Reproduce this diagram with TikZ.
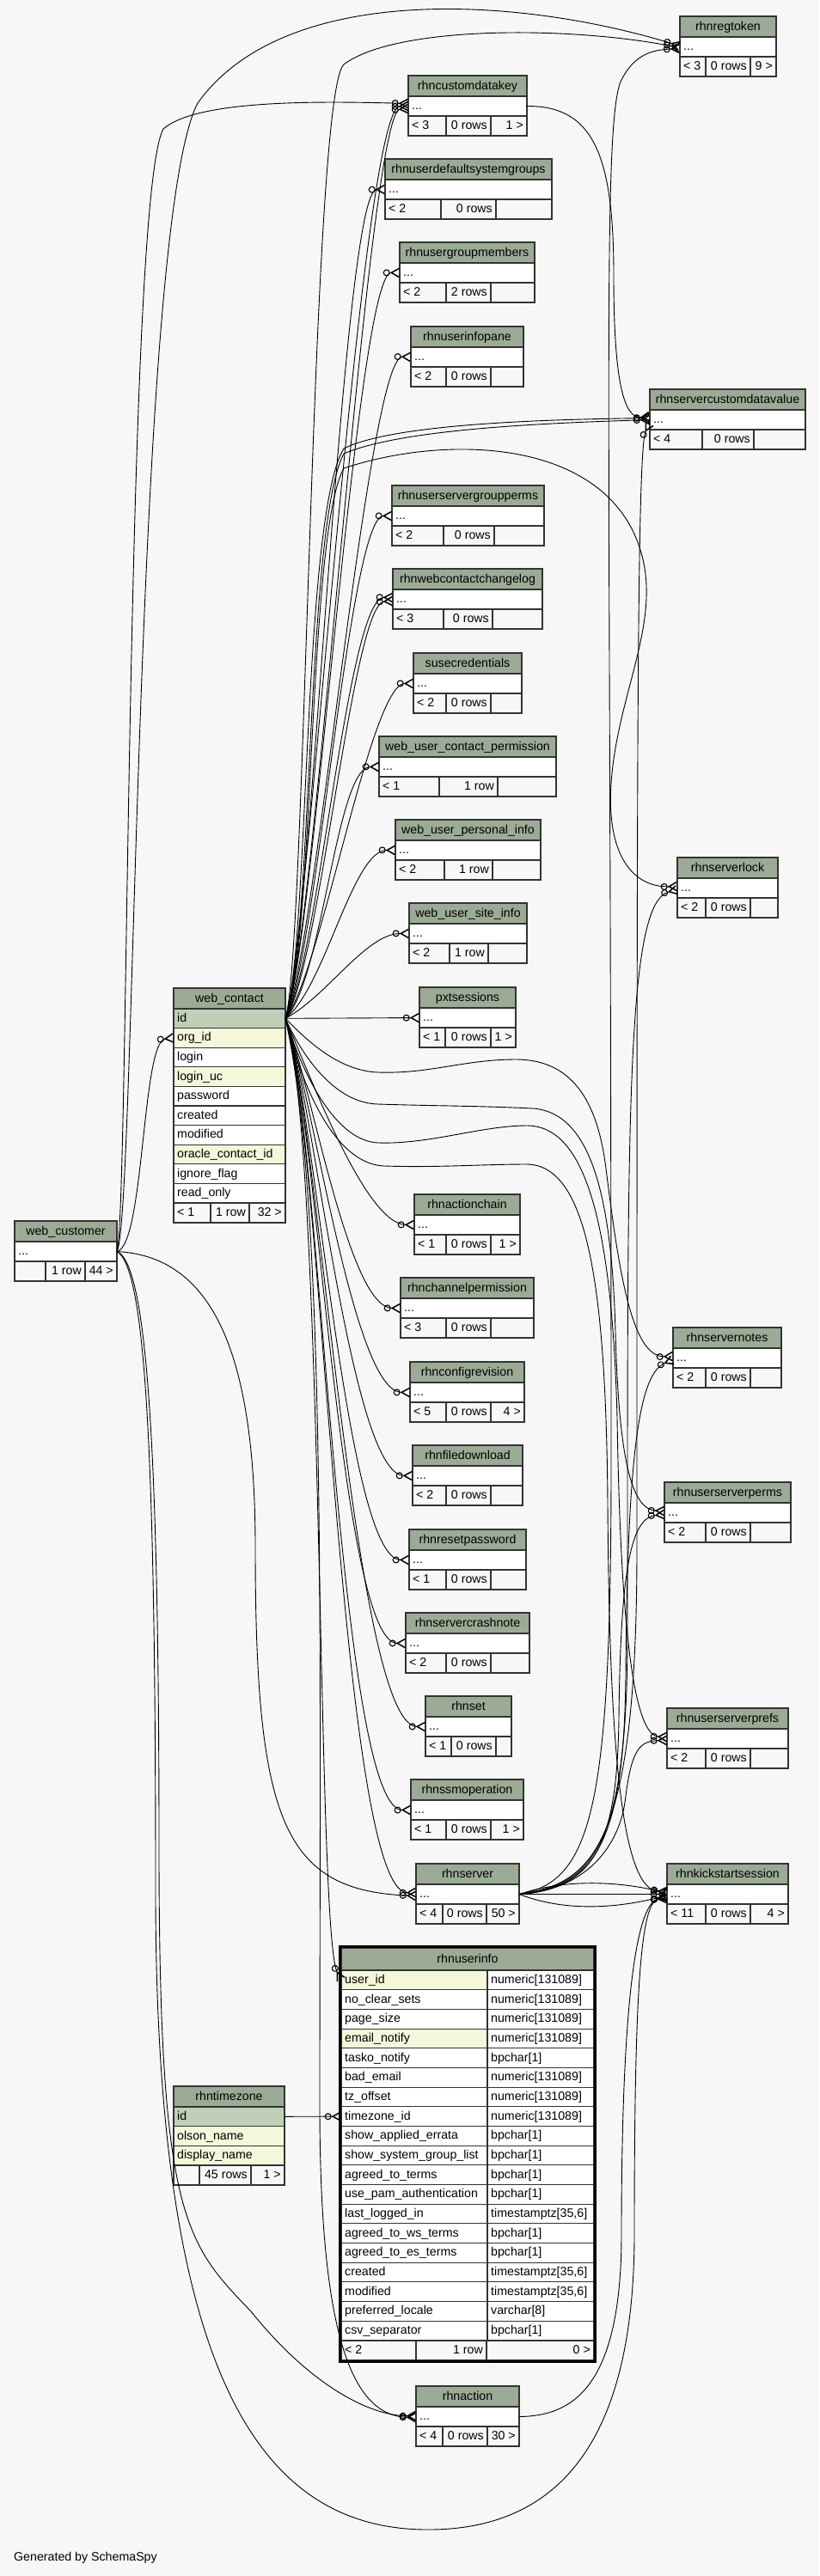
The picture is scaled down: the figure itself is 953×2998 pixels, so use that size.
\documentclass[tikz,border=0pt]{standalone}
\usepackage{fontspec}
\setmainfont{Liberation Sans}
\usetikzlibrary{arrows.meta}
\definecolor{headgreen}{HTML}{9BAB96}
\definecolor{pagegray}{HTML}{F7F7F7}
\definecolor{keygreen}{HTML}{BED1B8}
\definecolor{idxyellow}{HTML}{F4F7DA}

\begin{document}
\begin{tikzpicture}[x=1pt,y=-1pt,font=\fontsize{14.2}{16}\selectfont,
    cell/.style={draw=black!80,line width=1.1pt},
    colcell/.style={cell,rectangle,inner sep=0pt,outer sep=0pt,minimum height=22.6pt},
    txt/.style={inner sep=0pt,text height=9pt,text depth=1pt},
    fk/.style={line width=0.9pt,-{Circle[open,length=8pt,width=8pt,line width=1.1pt]Straight Barb[reversed,length=9pt,width=10pt,line width=1.5pt]}}]
    \fill[pagegray] (0,0) rectangle (953,2998);
    \useasboundingbox (0,0) rectangle (953,2998);

    % small tables: id/title/left/right/top/cell1/cell2/footer texts
    \foreach \tid/\tname/\xl/\xr/\yt/\ca/\cb/\fa/\fb/\fc in {
        regtoken/rhnregtoken/791/903/19/821/873/{< 3}/{0 rows}/{9 >},
        cdatakey/rhncustomdatakey/475/613/88/519/571/{< 3}/{0 rows}/{1 >},
        udsg/rhnuserdefaultsystemgroups/448/642/185/513/577/{< 2}/{0 rows}/{},
        ugm/rhnusergroupmembers/465/622/282/519/571/{< 2}/{2 rows}/{},
        uip/rhnuserinfopane/478/609/380/519/571/{< 2}/{0 rows}/{},
        scdv/rhnservercustomdatavalue/756/937/453/817/877/{< 4}/{0 rows}/{},
        usgp/rhnuserservergroupperms/456/633/565/516/575/{< 2}/{0 rows}/{},
        wccl/rhnwebcontactchangelog/457/631/662/516/573/{< 3}/{0 rows}/{},
        susecred/susecredentials/481/607/760/519/571/{< 2}/{0 rows}/{},
        wucp/web\_user\_contact\_permission/441/647/857/511/579/{< 1}/{1 row}/{},
        wupi/web\_user\_personal\_info/460/629/954/517/573/{< 2}/{1 row}/{},
        wusi/web\_user\_site\_info/476/613/1051/523/568/{< 2}/{1 row}/{},
        slock/rhnserverlock/788/905/998/821/873/{< 2}/{0 rows}/{},
        pxt/pxtsessions/488/600/1149/518/571/{< 1}/{0 rows}/{1 >},
        wcust/web\_customer/17/136/1421/53/99/{}/{1 row}/{44 >},
        achain/rhnactionchain/482/605/1390/519/571/{< 1}/{0 rows}/{1 >},
        chperm/rhnchannelpermission/466/621/1487/519/571/{< 3}/{0 rows}/{},
        cfgrev/rhnconfigrevision/477/610/1585/519/571/{< 5}/{0 rows}/{4 >},
        fdl/rhnfiledownload/480/608/1682/519/571/{< 2}/{0 rows}/{},
        snotes/rhnservernotes/783/909/1545/821/873/{< 2}/{0 rows}/{},
        rpw/rhnresetpassword/476/612/1780/519/571/{< 1}/{0 rows}/{},
        scn/rhnservercrashnote/472/616/1877/519/571/{< 2}/{0 rows}/{},
        usperms/rhnuserserverperms/773/920/1725/821/873/{< 2}/{0 rows}/{},
        rset/rhnset/495/595/1974/525/577/{< 1}/{0 rows}/{},
        usprefs/rhnuserserverprefs/776/917/1988/821/873/{< 2}/{0 rows}/{},
        ssmop/rhnssmoperation/478/609/2071/519/571/{< 1}/{0 rows}/{1 >},
        server/rhnserver/484/604/2169/515/566/{< 4}/{0 rows}/{50 >},
        kss/rhnkickstartsession/776/917/2169/821/873/{< 11}/{0 rows}/{4 >},
        action/rhnaction/484/604/2777/515/567/{< 4}/{0 rows}/{30 >}}{
        \draw[cell,fill=headgreen] (\xl,\yt) rectangle (\xr,\yt+24);
        \node[txt] (\tid-title) at ({(\xl+\xr)/2},\yt+12) {\tname};
        \node[colcell,fill=white,minimum height=23pt,minimum width={(\xr-\xl)*1pt},anchor=north west] (\tid) at (\xl,\yt+24) {};
        \node[txt,anchor=west] (\tid-dots) at ([xshift=4pt]\tid.west) {...};
        \draw[cell,fill=pagegray] (\xl,\yt+47) rectangle (\ca,\yt+70) (\ca,\yt+47) rectangle (\cb,\yt+70) (\cb,\yt+47) rectangle (\xr,\yt+70);
        \node[txt,anchor=west] (\tid-parents) at (\xl+4,\yt+58.5) {\fa};
        \node[txt,anchor=east] (\tid-rows) at (\cb-4,\yt+58.5) {\fb};
        \node[txt,anchor=east] (\tid-children) at (\xr-4,\yt+58.5) {\fc};
    }

    % web_contact
    \draw[cell,fill=headgreen] (202,1150) rectangle (332,1174);
    \node[txt] (wc-title) at (267,1162) {web\_contact};
    \foreach \cname/\cfill [count=\i from 0] in {id/keygreen,org\_id/idxyellow,login/white,login\_uc/idxyellow,password/white,created/white,modified/white,oracle\_contact\_id/idxyellow,ignore\_flag/white,read\_only/white}{
        \node[colcell,fill=\cfill,minimum width=130pt,anchor=north west] (wc-\i) at (202,{1174+22.6*\i}) {};
        \node[txt,anchor=west] (wc-\i-name) at ([xshift=4pt]wc-\i.west) {\cname};
    }
    \draw[cell,fill=pagegray] (202,1400) rectangle (245,1423) (245,1400) rectangle (290,1423) (290,1400) rectangle (332,1423);
    \node[txt,anchor=west] (wc-parents) at (206,1411.5) {< 1};
    \node[txt,anchor=east] (wc-rows) at (286,1411.5) {1 row};
    \node[txt,anchor=east] (wc-children) at (328,1411.5) {32 >};

    % rhntimezone
    \draw[cell,fill=headgreen] (202,2428) rectangle (331,2452);
    \node[txt] (tz-title) at (266.5,2440) {rhntimezone};
    \foreach \cname/\cfill [count=\i from 0] in {id/keygreen,olson\_name/idxyellow,display\_name/idxyellow}{
        \node[colcell,fill=\cfill,minimum width=129pt,anchor=north west] (tz-\i) at (202,{2452+22.7*\i}) {};
        \node[txt,anchor=west] (tz-\i-name) at ([xshift=4pt]tz-\i.west) {\cname};
    }
    \draw[cell,fill=pagegray] (202,2520) rectangle (232,2543) (232,2520) rectangle (292,2543) (292,2520) rectangle (331,2543);
    \node[txt,anchor=east] (tz-rows) at (288,2531.5) {45 rows};
    \node[txt,anchor=east] (tz-children) at (327,2531.5) {1 >};

    % rhnuserinfo
    \draw[cell,fill=headgreen] (397,2267) rectangle (691,2293);
    \node[txt] (ui-title) at (544,2280) {rhnuserinfo};
    \foreach \cname/\ctype/\cfill [count=\i from 0] in {
        user\_id/{numeric[131089]}/idxyellow,
        no\_clear\_sets/{numeric[131089]}/white,
        page\_size/{numeric[131089]}/white,
        email\_notify/{numeric[131089]}/idxyellow,
        tasko\_notify/{bpchar[1]}/white,
        bad\_email/{numeric[131089]}/white,
        tz\_offset/{numeric[131089]}/white,
        timezone\_id/{numeric[131089]}/white,
        show\_applied\_errata/{bpchar[1]}/white,
        show\_system\_group\_list/{bpchar[1]}/white,
        agreed\_to\_terms/{bpchar[1]}/white,
        use\_pam\_authentication/{bpchar[1]}/white,
        last\_logged\_in/{timestamptz[35,6]}/white,
        agreed\_to\_ws\_terms/{bpchar[1]}/white,
        agreed\_to\_es\_terms/{bpchar[1]}/white,
        created/{timestamptz[35,6]}/white,
        modified/{timestamptz[35,6]}/white,
        preferred\_locale/{varchar[8]}/white,
        csv\_separator/{bpchar[1]}/white}{
        \node[colcell,fill=\cfill,minimum height=22.68pt,minimum width=170pt,anchor=north west] (ui-\i) at (397,{2293+22.68*\i}) {};
        \node[colcell,fill=white,minimum height=22.68pt,minimum width=124pt,anchor=north west] (uit-\i) at (567,{2293+22.68*\i}) {};
        \node[txt,anchor=west] (ui-\i-name) at ([xshift=4pt]ui-\i.west) {\cname};
        \node[txt,anchor=west] (uit-\i-name) at ([xshift=4pt]uit-\i.west) {\ctype};
    }
    \draw[cell,fill=pagegray] (397,2724) rectangle (484,2747) (484,2724) rectangle (566,2747) (566,2724) rectangle (691,2747);
    \node[txt,anchor=west] (ui-parents) at (401,2735.5) {< 2};
    \node[txt,anchor=east] (ui-rows) at (562,2735.5) {1 row};
    \node[txt,anchor=east] (ui-children) at (687,2735.5) {0 >};
    \draw[line width=3pt] (395.5,2265.5) rectangle (692.5,2748.5);

    \node[txt,anchor=west] (credit) at (16,2976) {Generated by SchemaSpy};

    % web_customer children
    \draw[fk] (wcust.east) .. controls (168,1450) and (165,1212) .. (wc-1.west);
    \draw[fk] (wcust.east) .. controls (150,1420) and (146,230) .. (190,150) .. controls (230,115) and (380,118) .. ([yshift=3pt]cdatakey.west);
    \draw[fk] (wcust.east) .. controls (158,1420) and (156,260) .. (230,120) .. controls (330,-20) and (600,-5) .. ([yshift=1pt]regtoken.west);
    \draw[fk] (wcust.east) .. controls (240,1462) and (297,1560) .. (297,1800) .. controls (297,2120) and (330,2200) .. ([yshift=-2pt]server.west);
    \draw[fk] (wcust.east) .. controls (172,1470) and (185,1700) .. (185,2150) .. controls (185,2580) and (215,2610) .. (292,2690) .. controls (360,2775) and (430,2812) .. ([yshift=1pt]action.west);
    \draw[fk] (wcust.east) .. controls (170,1475) and (181,1700) .. (181,2200) .. controls (181,2760) and (300,2944) .. (498,2944) .. controls (665,2944) and (738,2820) .. (738,2600) .. controls (738,2320) and (745,2212) .. ([yshift=-5pt]kss.west);

    % web_contact children, upwards
    \draw[fk] (wc-0.east) .. controls (356,1110) and (362,110) .. (400,75) .. controls (460,30) and (660,30) .. ([yshift=-1pt]regtoken.west);
    \draw[fk] (wc-0.east) .. controls (358,1110) and (420,125) .. (cdatakey.west);
    \draw[fk] (wc-0.east) .. controls (366,1110) and (428,130) .. ([yshift=-3pt]cdatakey.west);
    \draw[fk] (wc-0.east) .. controls (362,1115) and (398,221) .. (udsg.west);
    \draw[fk] (wc-0.east) .. controls (364,1118) and (415,317) .. (ugm.west);
    \draw[fk] (wc-0.east) .. controls (366,1120) and (428,414) .. (uip.west);
    \draw[fk] (wc-0.east) .. controls (360,1100) and (352,600) .. (400,522) .. controls (460,492) and (650,488) .. ([yshift=2pt]scdv.west);
    \draw[fk] (wc-0.east) .. controls (364,1100) and (356,610) .. (400,528) .. controls (470,498) and (650,492) .. (scdv.west);
    \draw[fk] (wc-0.east) .. controls (368,1122) and (406,600) .. (usgp.west);
    \draw[fk] (wc-0.east) .. controls (370,1125) and (404,694) .. ([yshift=2pt]wccl.west);
    \draw[fk] (wc-0.east) .. controls (372,1128) and (410,702) .. ([yshift=-2pt]wccl.west);
    \draw[fk] (wc-0.east) .. controls (374,1132) and (431,795) .. (susecred.west);
    \draw[fk] (wc-0.east) .. controls (376,1140) and (391,892) .. (wucp.west);
    \draw[fk] (wc-0.east) .. controls (378,1150) and (410,989) .. (wupi.west);
    \draw[fk] (wc-0.east) .. controls (380,1160) and (426,1086) .. (wusi.west);
    \draw[fk] (wc-0.east) -- (pxt.west);
    \draw[fk] (wc-0.east) .. controls (366,1100) and (358,620) .. (400,545) .. controls (520,505) and (705,510) .. (745,640) .. controls (770,720) and (722,800) .. (712,900) .. controls (702,1000) and (740,1033) .. ([yshift=2pt]slock.west);

    % web_contact children, downwards
    \draw[fk] (wc-0.east) .. controls (360,1250) and (425,1425) .. (achain.west);
    \draw[fk] (wc-0.east) .. controls (362,1260) and (405,1522) .. (chperm.west);
    \draw[fk] (wc-0.east) .. controls (364,1270) and (410,1620) .. (cfgrev.west);
    \draw[fk] (wc-0.east) .. controls (366,1280) and (408,1717) .. (fdl.west);
    \draw[fk] (wc-0.east) .. controls (368,1290) and (402,1815) .. (rpw.west);
    \draw[fk] (wc-0.east) .. controls (370,1300) and (396,1912) .. (scn.west);
    \draw[fk] (wc-0.east) .. controls (372,1310) and (412,2009) .. (rset.west);
    \draw[fk] (wc-0.east) .. controls (374,1320) and (394,2107) .. (ssmop.west);
    \draw[fk] (wc-0.east) .. controls (376,1330) and (396,2204) .. ([yshift=2pt]server.west);
    \draw[fk] (wc-0.east) .. controls (378,1340) and (368,2250) .. (ui-0.west);
    \draw[fk] (wc-0.east) .. controls (380,1400) and (372,1900) .. (372,2450) .. controls (372,2720) and (410,2812) .. ([yshift=-1pt]action.west);

    % web_contact children, right column
    \draw[fk] (wc-0.east) .. controls (352,1205) and (390,1246) .. (440,1248) .. controls (500,1250) and (540,1233) .. (600,1233) .. controls (665,1233) and (695,1280) .. (705,1360) .. controls (720,1480) and (735,1580) .. ([yshift=2pt]snotes.west);
    \draw[fk] (wc-0.east) .. controls (352,1230) and (390,1284) .. (440,1285) .. controls (500,1287) and (560,1287) .. (620,1290) .. controls (690,1295) and (712,1400) .. (716,1550) .. controls (720,1700) and (735,1757) .. ([yshift=2pt]usperms.west);
    \draw[fk] (wc-0.east) .. controls (352,1250) and (390,1328) .. (440,1330) .. controls (500,1332) and (560,1310) .. (613,1310) .. controls (680,1310) and (712,1420) .. (718,1650) .. controls (722,1900) and (738,2020) .. ([yshift=2pt]usprefs.west);
    \draw[fk] (wc-0.east) .. controls (355,1280) and (395,1355) .. (447,1357) .. controls (510,1359) and (560,1355) .. (613,1355) .. controls (680,1356) and (705,1480) .. (707,1750) .. controls (709,2050) and (725,2200) .. ([yshift=3pt]kss.west);

    % rhnserver children
    \draw[fk] (server.east) .. controls (660,2186) and (720,2190) .. ([yshift=1.5pt]kss.west);
    \draw[fk] (server.east) -- (kss.west);
    \draw[fk] (server.east) .. controls (660,2226) and (720,2220) .. ([yshift=-1.5pt]kss.west);
    \draw[fk] (server.east) .. controls (680,2200) and (722,2150) .. (728,2090) .. controls (735,2035) and (745,2026) .. ([yshift=-2pt]usprefs.west);
    \draw[fk] (server.east) .. controls (690,2198) and (718,2150) .. (720,2000) .. controls (722,1820) and (735,1766) .. ([yshift=-2pt]usperms.west);
    \draw[fk] (server.east) .. controls (690,2196) and (726,2150) .. (728,1950) .. controls (730,1680) and (745,1598) .. ([yshift=-2pt]snotes.west);
    \draw[fk] (server.east) .. controls (690,2194) and (730,2150) .. (730,1900) .. controls (730,1300) and (728,1050) .. ([yshift=-2pt]slock.west);
    \draw[fk] (server.east) .. controls (690,2192) and (741,2150) .. (741,1800) .. controls (741,900) and (741,520) .. ([yshift=-4pt]scdv.west);
    \draw[fk] (server.east) .. controls (690,2190) and (711,2100) .. (711,1700) .. controls (711,500) and (700,150) .. (722,95) .. controls (738,62) and (760,58) .. ([yshift=-2pt]regtoken.west);

    % other links
    \draw[fk] (cdatakey.east) .. controls (690,123) and (714,180) .. (714,320) .. controls (714,440) and (725,488) .. ([yshift=4pt]scdv.west);
    \draw[fk] (action.east) .. controls (665,2812) and (723,2780) .. (723,2600) .. controls (723,2350) and (738,2215) .. ([yshift=-3pt]kss.west);
    \draw[fk] (tz-0.east) -- (ui-7.west);
\end{tikzpicture}
\end{document}
